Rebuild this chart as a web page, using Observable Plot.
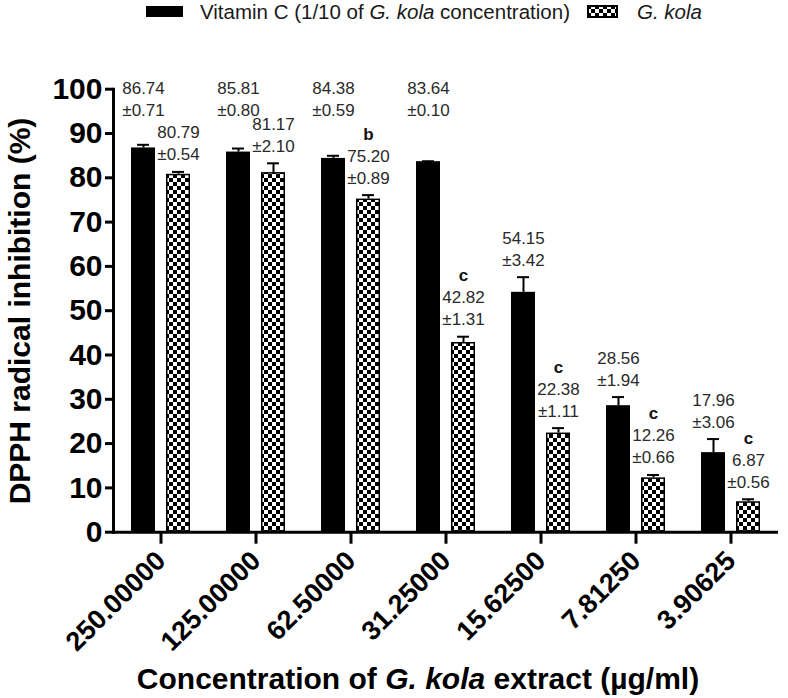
<!DOCTYPE html>
<html>
<head>
<meta charset="utf-8">
<script src="https://cdn.jsdelivr.net/npm/d3@7"></script>
<script src="https://cdn.jsdelivr.net/npm/@observablehq/plot@0.6"></script>
<style>
  body { margin: 0; background: #fff; font-family: "Liberation Sans", Arial, sans-serif; }
  #wrap { position: relative; width: 788px; height: 698px; overflow: hidden; background: #fff; }
  #legend { position: absolute; top: 0; left: 0; width: 788px; height: 26px; font-size: 20.5px; color: #1a1a1a; }
  .sw { position: absolute; }
  .lt { position: absolute; top: 1px; line-height: 22px; white-space: nowrap; }
  #chart { position: absolute; top: 26px; left: 0; }
  #xtitle { position: absolute; top: 662px; left: 418px; transform: translateX(-50%); white-space: nowrap;
            font-size: 30px; font-weight: bold; color: #000; line-height: 34px; }
  #ytitle { position: absolute; left: 20px; top: 311px; transform: translate(-50%, -50%) rotate(-90deg);
            white-space: nowrap; font-size: 30px; font-weight: bold; color: #000; line-height: 34px; }
</style>
</head>
<body>
<div id="wrap">
  <div id="legend">
    <div class="sw" style="left:146px;top:6px;width:37px;height:11px;background:#000;"></div>
    <div class="lt" style="left:200px;">Vitamin C (1/10 of <i>G. kola</i> concentration)</div>
    <svg class="sw" style="left:587px;top:5px;" width="31" height="13">
      <defs>
        <pattern id="checkerLegend" width="8" height="8" patternUnits="userSpaceOnUse">
          <rect width="8" height="8" fill="white"/>
          <rect width="4" height="4" fill="black"/>
          <rect x="4" y="4" width="4" height="4" fill="black"/>
        </pattern>
      </defs>
      <rect x="1" y="1" width="29" height="11" fill="url(#checkerLegend)" stroke="black" stroke-width="2"/>
    </svg>
    <div class="lt" style="left:637px;"><i>G. kola</i></div>
  </div>
  <div id="chart"></div>
  <div id="ytitle">DPPH radical inhibition (%)</div>
  <div id="xtitle">Concentration of <i>G. kola</i> extract (µg/ml)</div>
</div>
<script>
// ---- data ----
const concentrations = ["250.00000", "125.00000", "62.50000", "31.25000", "15.62500", "7.81250", "3.90625"];
const seriesNames = ["Vitamin C", "G. kola"];
const vitaminC = [86.74, 85.81, 84.38, 83.64, 54.15, 28.56, 17.96];
const vitaminCSD = [0.71, 0.80, 0.59, 0.10, 3.42, 1.94, 3.06];
const kola = [80.79, 81.17, 75.20, 42.82, 22.38, 12.26, 6.87];
const kolaSD = [0.54, 2.10, 0.89, 1.31, 1.11, 0.66, 0.56];
const kolaLetters = ["", "", "b", "c", "c", "c", "c"];
const yTicks = [0, 10, 20, 30, 40, 50, 60, 70, 80, 90, 100];

// ---- table ----
const topLabelLevel = 91.4; // labels of the tall Vitamin C bars sit in a row at the top
const rows = concentrations.flatMap((c, i) => [
  {conc: c, series: "Vitamin C", mean: vitaminC[i], sd: vitaminCSD[i], letter: ""},
  {conc: c, series: "G. kola", mean: kola[i], sd: kolaSD[i], letter: kolaLetters[i]}
]);
rows.forEach(d => {
  d.top = d.mean + d.sd;
  d.labelY = (d.series === "Vitamin C" && d.mean > 80) ? topLabelLevel : d.top;
});
const vitRows = rows.filter(d => d.series === "Vitamin C");
const kolaRows = rows.filter(d => d.series === "G. kola");

const font = "'Liberation Sans', Arial, sans-serif";
const labelStyle = {fx: "conc", x: "series", y: "labelY", fontSize: 17, fill: "#2a2a2a", fontFamily: font};

const svg = Plot.plot({
  width: 788,
  height: 672,
  marginLeft: 112,
  marginRight: 10,
  marginTop: 62.7,
  marginBottom: 166.3,
  style: {fontFamily: font, background: "white", color: "black", overflow: "visible"},
  fx: {domain: concentrations, padding: 0, label: null},
  x: {domain: seriesNames, paddingInner: 0.31, paddingOuter: 0.5, axis: null},
  y: {domain: [0, 100]},
  marks: [
    Plot.barY(vitRows, {fx: "conc", x: "series", y: "mean", fill: "black"}),
    Plot.barY(kolaRows, {fx: "conc", x: "series", y: "mean", fill: "url(#checker)", stroke: "black", strokeWidth: 1.5, inset: 0.75}),
    Plot.ruleX(rows, {fx: "conc", x: "series", y1: "mean", y2: "top", stroke: "black", strokeWidth: 2}),
    Plot.tickY(rows, {fx: "conc", x: "series", y: "top", stroke: "black", strokeWidth: 2, insetLeft: 6, insetRight: 6}),
    Plot.text(rows, {...labelStyle, text: d => "±" + d.sd.toFixed(2), dy: -17}),
    Plot.text(rows, {...labelStyle, text: d => d.mean.toFixed(2), dy: -39}),
    Plot.text(rows.filter(d => d.letter), {...labelStyle, text: "letter", dy: -61, fontWeight: "bold", fill: "#111"}),
    Plot.ruleY([0], {stroke: "black", strokeWidth: 3}),
    Plot.frame({anchor: "left", facetAnchor: "left", stroke: "black", strokeWidth: 3}),
    Plot.axisY({ticks: yTicks, tickSize: 8, tickPadding: 3, stroke: "black", strokeWidth: 3,
      fontSize: 30, fontWeight: "bold", fill: "black", label: null}),
    Plot.axisFx({anchor: "bottom", tickSize: 12, strokeWidth: 3, stroke: "black", tickRotate: -45, tickPadding: 12,
      fontSize: 27, fontWeight: "bold", fill: "black", label: null})
  ]
});

svg.insertAdjacentHTML("afterbegin",
  '<defs><pattern id="checker" width="8" height="8" patternUnits="userSpaceOnUse">' +
  '<rect width="8" height="8" fill="white"/><rect width="4" height="4" fill="black"/>' +
  '<rect x="4" y="4" width="4" height="4" fill="black"/></pattern></defs>');

document.getElementById("chart").appendChild(svg);
</script>
</body>
</html>
